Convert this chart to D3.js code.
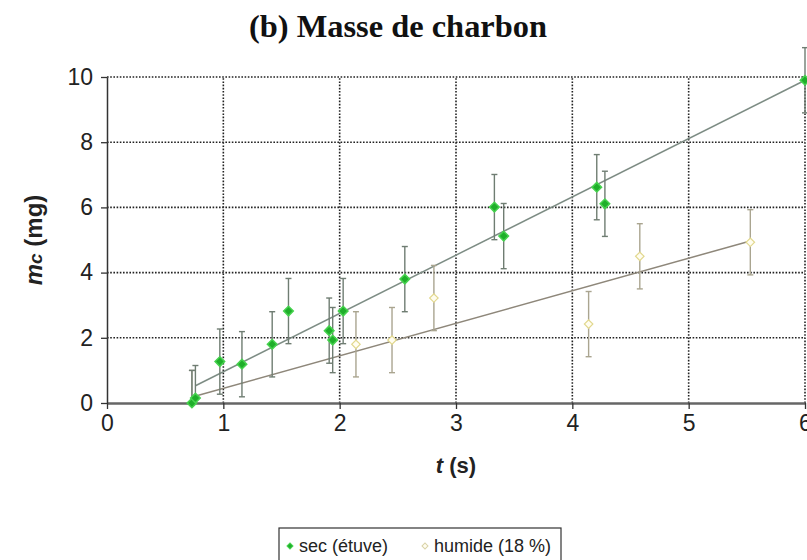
<!DOCTYPE html>
<html><head><meta charset="utf-8">
<script src="https://cdn.jsdelivr.net/npm/d3@7"></script>
<style>body{margin:0;background:#fff}svg{display:block}</style>
</head><body>
<svg id="c" width="807" height="560"></svg>
<script>
// ---- data ----
const xTicks = [0,1,2,3,4,5,6];
const yTicks = [0,2,4,6,8,10];
const secT   = [0.73,0.76,0.97,1.16,1.42,1.56,1.91,1.94,2.03,2.56,3.33,3.41,4.21,4.28,6.0];
const secM   = [0.0,0.15,1.27,1.19,1.8,2.82,2.22,1.93,2.82,3.8,6.01,5.12,6.62,6.11,9.9];
const secErr = [1,1,1,1,1,1,1,1,1,1,1,1,1,1,1];
const humT   = [0.73,2.14,2.45,2.81,4.14,4.58,5.53];
const humM   = [0.0,1.8,1.93,3.22,2.42,4.5,4.93];
const humErr = [1,1,1,1,1,1,1];
const fitSecT = [0.76,6.0], fitSecM = [0.53,9.9];
const fitHumT = [0.74,5.53], fitHumM = [0.19,4.97];
const title = "(b) Masse de charbon";
const legendLabels = ["sec (étuve)","humide (18 %)"];

const svg = d3.select("#c");
const x = d3.scaleLinear().domain([0,6]).range([107,805]);
const y = d3.scaleLinear().domain([0,10]).range([403,77]);
const font = "Liberation Sans, Arial, sans-serif";

// title
svg.append("text").attr("x",398).attr("y",37).attr("text-anchor","middle")
  .attr("font-family","Liberation Serif, Times New Roman, serif").attr("font-weight","bold")
  .attr("font-size",31).attr("textLength",298).attr("lengthAdjust","spacingAndGlyphs")
  .attr("fill","#111").text(title);

// grid
const g = svg.append("g");
g.selectAll(".hg").data(yTicks.filter(d=>d>0)).join("line")
  .attr("x1",x(0)).attr("x2",x(6)).attr("y1",d=>y(d)).attr("y2",d=>y(d))
  .attr("stroke","#222").attr("stroke-width",1.6).attr("stroke-dasharray","1.6,1.6");
g.selectAll(".vg").data(xTicks.filter(d=>d>0)).join("line")
  .attr("x1",d=>x(d)).attr("x2",d=>x(d)).attr("y1",y(0)).attr("y2",y(10))
  .attr("stroke","#222").attr("stroke-width",1.6).attr("stroke-dasharray","1.6,1.6");

// axes
const xAxis = svg.append("g").attr("transform",`translate(0,${y(0)})`)
  .call(d3.axisBottom(x).tickValues(xTicks).tickFormat(d3.format("d")).tickSize(6).tickPadding(6).tickSizeOuter(0));
const yAxis = svg.append("g").attr("transform",`translate(${x(0)},0)`)
  .call(d3.axisLeft(y).tickValues(yTicks).tickFormat(d3.format("d")).tickSize(6).tickPadding(8).tickSizeOuter(0));
xAxis.select(".domain").attr("stroke","#666").attr("stroke-width",2.5);
yAxis.select(".domain").attr("stroke","#333").attr("stroke-width",1.5);
[xAxis,yAxis].forEach(a=>{
  a.selectAll(".tick line").attr("stroke","#333").attr("stroke-width",1.3);
  a.selectAll(".tick text").attr("font-family",font).attr("font-size",23).attr("fill","#222");
});

// fit lines
const line = d3.line().x(d=>x(d[0])).y(d=>y(d[1]));
svg.append("path").datum(fitHumT.map((t,i)=>[t,fitHumM[i]])).attr("d",line)
  .attr("fill","none").attr("stroke","#8e877a").attr("stroke-width",1.5);
svg.append("path").datum(fitSecT.map((t,i)=>[t,fitSecM[i]])).attr("d",line)
  .attr("fill","none").attr("stroke","#7d8c84").attr("stroke-width",1.5);

// error bars
function errBars(T,M,E,color){
  const eg = svg.append("g").attr("stroke",color).attr("stroke-width",1.4);
  T.forEach((t,i)=>{
    const lo = Math.max(0,M[i]-E[i]), hi = M[i]+E[i];
    eg.append("line").attr("x1",x(t)).attr("x2",x(t)).attr("y1",y(lo)).attr("y2",y(hi));
    eg.append("line").attr("x1",x(t)-3).attr("x2",x(t)+3).attr("y1",y(hi)).attr("y2",y(hi));
    if (M[i]-E[i] >= 0) eg.append("line").attr("x1",x(t)-3).attr("x2",x(t)+3).attr("y1",y(lo)).attr("y2",y(lo));
  });
}
errBars(humT,humM,humErr,"#aaa590");
errBars(secT,secM,secErr,"#6f7d72");

// markers (rotated squares = diamonds)
const sq = d3.symbol().type(d3.symbolSquare);
svg.append("g").selectAll("path").data(humT.map((t,i)=>[t,humM[i]])).join("path")
  .attr("d",sq.size(36)).attr("transform",d=>`translate(${x(d[0])},${y(d[1])}) rotate(45)`)
  .attr("fill","#fffdf0").attr("stroke","#e2d88e").attr("stroke-width",1.2);
svg.append("g").selectAll("path").data(secT.map((t,i)=>[t,secM[i]])).join("path")
  .attr("d",sq.size(46)).attr("transform",d=>`translate(${x(d[0])},${y(d[1])}) rotate(45)`)
  .attr("fill","#1fae2a").attr("stroke","#46d24e").attr("stroke-width",1.5);

// y label
const yl = svg.append("text").attr("transform","translate(42,240) rotate(-90)")
  .attr("text-anchor","middle").attr("font-family",font).attr("font-weight","bold")
  .attr("font-size",24).attr("fill","#222");
yl.append("tspan").attr("font-style","italic").text("m");
yl.append("tspan").attr("font-style","italic").attr("font-size",19).text("c");
yl.append("tspan").text(" (mg)");

// x label
const xl = svg.append("text").attr("x",456).attr("y",473).attr("text-anchor","middle")
  .attr("font-family",font).attr("font-weight","bold").attr("font-size",22).attr("fill","#222");
xl.append("tspan").attr("font-style","italic").text("t");
xl.append("tspan").text(" (s)");

// legend
const lg = svg.append("g");
lg.append("rect").attr("x",279).attr("y",528).attr("width",282).attr("height",34)
  .attr("fill","#fff").attr("stroke","#333").attr("stroke-width",1.2);
lg.append("path").attr("d",sq.size(18)).attr("transform","translate(290,546) rotate(45)")
  .attr("fill","#1fae2a").attr("stroke","#46d24e");
lg.append("text").attr("x",299).attr("y",552).attr("font-family",font).attr("font-size",18)
  .attr("fill","#222").text(legendLabels[0]);
lg.append("path").attr("d",sq.size(18)).attr("transform","translate(425,546) rotate(45)")
  .attr("fill","#fffdf0").attr("stroke","#d9d3a8");
lg.append("text").attr("x",434).attr("y",552).attr("font-family",font).attr("font-size",18)
  .attr("fill","#222").text(legendLabels[1]);
</script>
</body></html>
